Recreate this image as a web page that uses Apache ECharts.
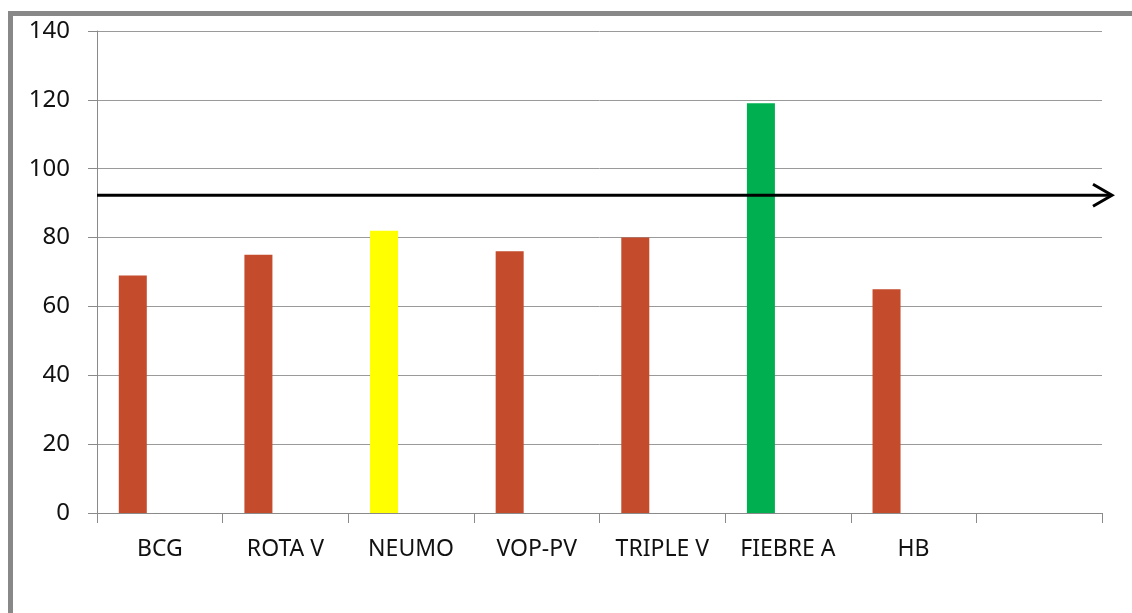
<!DOCTYPE html>
<html><head><meta charset="utf-8">
<script src="https://cdn.jsdelivr.net/npm/echarts@6/dist/echarts.min.js"></script>
<style>html,body{margin:0;padding:0;background:#fff}#c{width:1132px;height:613px}</style>
</head><body><div id="c"></div>
<script>
const categories = ['BCG','ROTA V','NEUMO','VOP-PV','TRIPLE V','FIEBRE A','HB',''];
const values = [69, 75, 82, 76, 80, 119, 65, null];
const barColors = ['#C44B2B','#C44B2B','#FFFF00','#C44B2B','#C44B2B','#00B050','#C44B2B','#C44B2B'];
const yTicks = {min: 0, max: 140, interval: 20};
const targetValue = 92.3;

const chart = echarts.init(document.getElementById('c'), null, {renderer:'canvas'});
const font = "'Noto Sans', 'Open Sans', sans-serif";
chart.setOption({
  animation: false,
  grid: {left: 97, right: 30, top: 31, bottom: 100, containLabel: false},
  xAxis: {
    type: 'category', data: categories,
    axisLine: {lineStyle: {color: '#8a8a8a', width: 1}},
    axisTick: {show: true, length: 10, alignWithLabel: false, lineStyle: {color: '#8a8a8a'}},
    axisLabel: {color: '#111', fontFamily: font, fontSize: 23, margin: 25, interval: 0},
    splitLine: {show: false}
  },
  yAxis: {
    type: 'value', min: yTicks.min, max: yTicks.max, interval: yTicks.interval,
    axisLine: {show: true, lineStyle: {color: '#8a8a8a', width: 1}},
    axisTick: {show: true, length: 9, lineStyle: {color: '#8a8a8a'}},
    axisLabel: {color: '#111', fontFamily: font, fontSize: 24, margin: 27},
    splitLine: {show: true, lineStyle: {color: '#9a9a9a', width: 1}}
  },
  series: [
    {
      type: 'bar', barWidth: 28, barGap: '93%',
      data: values.map((v, i) => ({value: v, itemStyle: {color: barColors[i]}}))
    },
    {type: 'bar', barWidth: 28, data: values.map(() => null)}
  ]
});

function drawArrow() {
  const c0 = chart.convertToPixel({xAxisIndex: 0}, categories[0]);
  const c1 = chart.convertToPixel({xAxisIndex: 0}, categories[1]);
  const cN = chart.convertToPixel({xAxisIndex: 0}, categories[categories.length - 1]);
  const band = c1 - c0;
  const x0 = c0 - band / 2;
  const xTip = cN + band / 2 + 10;
  const y = chart.convertToPixel({yAxisIndex: 0}, targetValue);
  chart.setOption({
    graphic: [
      {type: 'line', z: 100, shape: {x1: x0, y1: y, x2: xTip - 2, y2: y}, style: {stroke: '#000', lineWidth: 3}},
      {type: 'polyline', z: 100, shape: {points: [[xTip - 19, y - 11], [xTip, y], [xTip - 19, y + 11]]}, style: {stroke: '#000', lineWidth: 3, fill: null}},
      {type: 'rect', z: 100, shape: {x: 8, y: 11, width: 1124, height: 5}, style: {fill: '#888888'}},
      {type: 'rect', z: 100, shape: {x: 8, y: 11, width: 5, height: 602}, style: {fill: '#888888'}}
    ]
  });
}
drawArrow();
</script></body></html>
